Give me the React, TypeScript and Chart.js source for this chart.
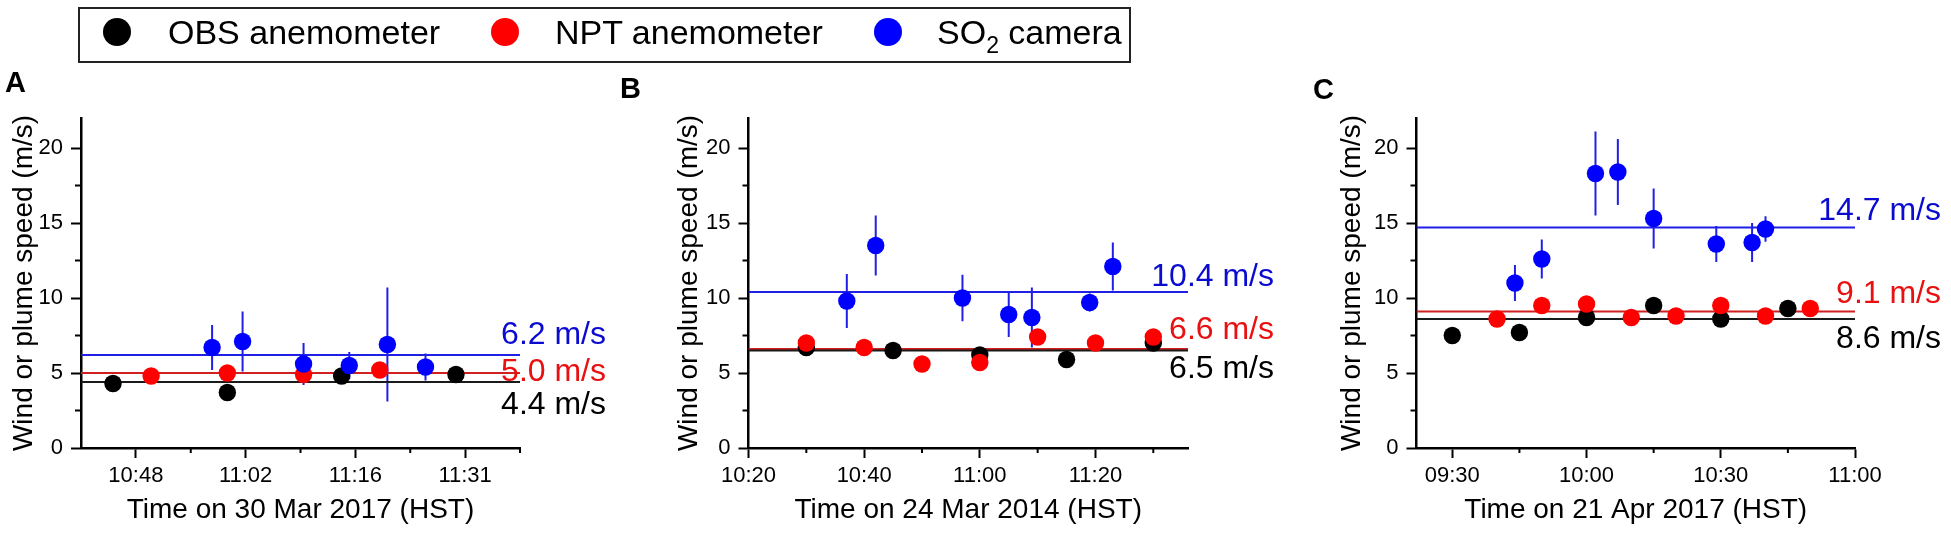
import { useEffect, useRef } from "react";
import { Chart, registerables } from "chart.js";
Chart.register(...registerables);

const FONT = "'Liberation Sans', Arial, sans-serif";

// shared y axis
const yTicks = [0, 5, 10, 15, 20];
const yMinor = [2.5, 7.5, 12.5, 17.5];
const yMax = 22;

const seriesNames = ["OBS anemometer", "NPT anemometer", "SO2 camera"];

// A - 30 Mar 2017
const aObsTime = ["10:45", "11:00", "11:15", "11:30"];
const aObsSpeed = [4.3, 3.7, 4.8, 4.9];
const aNptTime = ["10:50", "11:00", "11:10", "11:20"];
const aNptSpeed = [4.8, 5.0, 4.9, 5.2];
const aCamTime = ["10:58", "11:02", "11:10", "11:16", "11:21", "11:26"];
const aCamSpeed = [6.7, 7.1, 5.6, 5.5, 6.9, 5.4];
const aCamErr = [1.5, 2.0, 1.4, 0.9, 3.8, 0.9];
const aMeans = [4.4, 5.0, 6.2];
const aXRange = [640.8, 698.4]; // minutes after midnight
const aXTicks = [648, 662.4, 676.8, 691.2];
const aXMinor = [655.2, 669.6, 684, 698.4];

// B - 24 Mar 2014
const bObsTime = ["10:30", "10:45", "11:00", "11:15", "11:30"];
const bObsSpeed = [6.7, 6.5, 6.2, 5.9, 7.0];
const bNptTime = ["10:30", "10:40", "10:50", "11:00", "11:10", "11:20", "11:30"];
const bNptSpeed = [7.0, 6.7, 5.6, 5.7, 7.4, 7.0, 7.4];
const bCamTime = ["10:37", "10:42", "10:57", "11:05", "11:09", "11:19", "11:23"];
const bCamSpeed = [9.8, 13.5, 10.0, 8.9, 8.7, 9.7, 12.1];
const bCamErr = [1.8, 2.0, 1.55, 1.5, 2.0, 0.6, 1.6];
const bMeans = [6.5, 6.6, 10.4];
const bXRange = [620, 696];
const bXTicks = [620, 640, 660, 680];
const bXMinor = [630, 650, 670, 690];

// C - 21 Apr 2017
const cObsTime = ["09:30", "09:45", "10:00", "10:15", "10:30", "10:45"];
const cObsSpeed = [7.5, 7.7, 8.7, 9.5, 8.6, 9.3];
const cNptTime = ["09:40", "09:50", "10:00", "10:10", "10:20", "10:30", "10:40", "10:50"];
const cNptSpeed = [8.6, 9.5, 9.6, 8.7, 8.8, 9.5, 8.8, 9.3];
const cCamTime = ["09:44", "09:50", "10:02", "10:07", "10:15", "10:29", "10:37", "10:40"];
const cCamSpeed = [11.0, 12.6, 18.3, 18.4, 15.3, 13.6, 13.7, 14.6];
const cCamErr = [1.2, 1.3, 2.8, 2.2, 2.0, 1.2, 1.3, 0.85];
const cMeans = [8.6, 9.1, 14.7];
const cXRange = [562, 660];
const cXTicks = [570, 600, 630, 660];
const cXMinor = [585, 615, 645];

const POINT_COLORS = ["#000000", "#ff0000", "#0000ff"];
const LINE_COLORS = ["#1a1a1a", "#d02020", "#1f1fe6"];
const TEXT_COLORS = ["#000000", "#e81010", "#0a0ad0"];

const toMin = (s: string) => {
  const [h, m] = s.split(":").map(Number);
  return h * 60 + m;
};
const hhmm = (v: number) => {
  const t = Math.floor(v + 1e-6);
  return `${String(Math.floor(t / 60)).padStart(2, "0")}:${String(t % 60).padStart(2, "0")}`;
};

const decor = {
  id: "decor",
  beforeDatasetsDraw(chart: any, _args: any, opts: any) {
    const { ctx } = chart;
    const xs = chart.scales.x;
    const ys = chart.scales.y;
    ctx.save();
    ctx.strokeStyle = LINE_COLORS[2];
    ctx.lineWidth = 2;
    opts.errT.forEach((t: number, i: number) => {
      const px = xs.getPixelForValue(t);
      ctx.beginPath();
      ctx.moveTo(px, ys.getPixelForValue(opts.errV[i] - opts.errE[i]));
      ctx.lineTo(px, ys.getPixelForValue(opts.errV[i] + opts.errE[i]));
      ctx.stroke();
    });
    ctx.restore();
  },
  afterDraw(chart: any, _args: any, opts: any) {
    const { ctx, chartArea } = chart;
    const xs = chart.scales.x;
    const ys = chart.scales.y;
    ctx.save();
    ctx.strokeStyle = "#000";
    ctx.lineWidth = 2;
    opts.minorX.forEach((v: number) => {
      const px = xs.getPixelForValue(v);
      ctx.beginPath();
      ctx.moveTo(px, chartArea.bottom);
      ctx.lineTo(px, chartArea.bottom + 5);
      ctx.stroke();
    });
    yMinor.forEach((v) => {
      const py = ys.getPixelForValue(v);
      ctx.beginPath();
      ctx.moveTo(chartArea.left - 6, py);
      ctx.lineTo(chartArea.left, py);
      ctx.stroke();
    });
    ctx.font = `32px ${FONT}`;
    ctx.textAlign = "right";
    ctx.textBaseline = "middle";
    opts.means.forEach((m: number, i: number) => {
      ctx.fillStyle = TEXT_COLORS[i];
      ctx.fillText(`${m.toFixed(1)} m/s`, chartArea.right + 86, ys.getPixelForValue(m) + opts.labelDy[i]);
    });
    ctx.restore();
  },
};

interface PanelCfg {
  left: number;
  width: number;
  axisLeft: number;
  padRight: number;
  titlePad: number;
  labelDy: number[];
  title: string;
  times: string[][];
  speeds: number[][];
  camErr: number[];
  means: number[];
  xRange: number[];
  xTicks: number[];
  xMinor: number[];
}

const panels: PanelCfg[] = [
  {
    left: 0, width: 640, axisLeft: 81, padRight: 120, titlePad: 10, labelDy: [23, -1, -20],
    title: "Time on 30 Mar 2017 (HST)",
    times: [aObsTime, aNptTime, aCamTime], speeds: [aObsSpeed, aNptSpeed, aCamSpeed],
    camErr: aCamErr, means: aMeans, xRange: aXRange, xTicks: aXTicks, xMinor: aXMinor,
  },
  {
    left: 640, width: 660, axisLeft: 108.5, padRight: 112, titlePad: 35, labelDy: [19, -19, -15],
    title: "Time on 24 Mar 2014 (HST)",
    times: [bObsTime, bNptTime, bCamTime], speeds: [bObsSpeed, bNptSpeed, bCamSpeed],
    camErr: bCamErr, means: bMeans, xRange: bXRange, xTicks: bXTicks, xMinor: bXMinor,
  },
  {
    left: 1300, width: 651, axisLeft: 116.5, padRight: 96, titlePad: 38, labelDy: [20, -17, -16],
    title: "Time on 21 Apr 2017 (HST)",
    times: [cObsTime, cNptTime, cCamTime], speeds: [cObsSpeed, cNptSpeed, cCamSpeed],
    camErr: cCamErr, means: cMeans, xRange: cXRange, xTicks: cXTicks, xMinor: cXMinor,
  },
];

const Panel = ({ cfg }: { cfg: PanelCfg }) => {
  const chartRef = useRef<HTMLCanvasElement | null>(null);

  useEffect(() => {
    if (!chartRef.current) return;
    const ctx = chartRef.current.getContext("2d");
    if (!ctx) return;

    const [x0, x1] = cfg.xRange;
    const pointSets = [0, 1, 2].map((k) => ({
      label: seriesNames[k],
      data: cfg.times[k].map((t, i) => ({ x: toMin(t), y: cfg.speeds[k][i] })),
      backgroundColor: POINT_COLORS[k],
      borderWidth: 0,
      pointRadius: 8.7,
      pointHoverRadius: 8.7,
      order: 3 - k,
    }));
    const meanSets = [0, 1, 2].map((k) => ({
      label: seriesNames[k] + " mean",
      data: [{ x: x0, y: cfg.means[k] }, { x: x1, y: cfg.means[k] }],
      showLine: true,
      borderColor: LINE_COLORS[k],
      borderWidth: 2,
      pointRadius: 0,
      order: 10,
    }));

    const tickFont = { family: FONT, size: 22, lineHeight: 1 };
    const titleFont = { family: FONT, size: 28, lineHeight: 1 };

    const chart = new Chart(ctx, {
      type: "scatter",
      data: { datasets: [...meanSets, ...pointSets] as any },
      plugins: [decor],
      options: {
        animation: false,
        responsive: false,
        events: [],
        layout: {
          padding: { left: 0, top: 118, right: cfg.padRight, bottom: 12 },
        },
        scales: {
          x: {
            type: "linear",
            position: "bottom",
            bounds: "data",
            min: x0,
            max: x1,
            afterBuildTicks: (s: any) => {
              s.ticks = cfg.xTicks.map((v) => ({ value: v }));
            },
            afterFit: (s: any) => {
              s.height = 76;
            },
            ticks: {
              autoSkip: false,
              maxRotation: 0,
              minRotation: 0,
              padding: 6.5,
              color: "#000",
              font: tickFont,
              callback: (v: any) => hhmm(Number(v)),
            },
            grid: {
              display: true,
              drawOnChartArea: false,
              drawTicks: true,
              tickLength: 10,
              tickWidth: 2,
              tickColor: "#000",
            },
            border: { display: true, color: "#000", width: 2.5 },
            title: {
              display: true,
              text: cfg.title,
              color: "#000",
              font: titleFont,
              padding: { top: 0, bottom: 0 },
            },
          },
          y: {
            type: "linear",
            position: "left",
            bounds: "data",
            min: 0,
            max: yMax,
            afterBuildTicks: (s: any) => {
              s.ticks = yTicks.map((v) => ({ value: v }));
            },
            afterFit: (s: any) => {
              s.width = cfg.axisLeft;
            },
            ticks: {
              padding: 8,
              color: "#000",
              font: tickFont,
              callback: (v: any) => String(v),
            },
            grid: {
              display: true,
              drawOnChartArea: false,
              drawTicks: true,
              tickLength: 10,
              tickWidth: 2,
              tickColor: "#000",
            },
            border: { display: true, color: "#000", width: 2.5 },
            title: {
              display: true,
              text: "Wind or plume speed (m/s)",
              color: "#000",
              font: titleFont,
              padding: { top: cfg.titlePad, bottom: 0 },
            },
          },
        },
        plugins: {
          legend: { display: false },
          tooltip: { enabled: false },
          decor: {
            errT: cfg.times[2].map(toMin),
            errV: cfg.speeds[2],
            errE: cfg.camErr,
            minorX: cfg.xMinor,
            means: cfg.means,
            labelDy: cfg.labelDy,
          },
        } as any,
      },
    });

    return () => chart.destroy();
  }, [cfg]);

  return (
    <canvas
      ref={chartRef}
      width={cfg.width}
      height={536}
      style={{ position: "absolute", left: cfg.left, top: 0, width: cfg.width, height: 536 }}
    />
  );
};

const letters = [
  { text: "A", left: 5, top: 68 },
  { text: "B", left: 620, top: 74 },
  { text: "C", left: 1313, top: 75 },
];
const legendDotX = [117, 505, 888];
const legendTextX = [168, 555, 937];

const renderName = (name: string) =>
  name.startsWith("SO2") ? (
    <>
      SO<span style={{ fontSize: 23, position: "relative", top: 9 }}>2</span>
      {name.slice(3)}
    </>
  ) : (
    name
  );

const App = () => {
  return (
    <div
      style={{
        position: "fixed",
        left: 0,
        top: 0,
        width: 1951,
        height: 536,
        background: "#fff",
        fontFamily: FONT,
        color: "#000",
        overflow: "hidden",
      }}
    >
      {panels.map((p, i) => (
        <Panel key={i} cfg={p} />
      ))}
      <div
        style={{
          position: "absolute",
          left: 78,
          top: 7,
          width: 1053,
          height: 56,
          boxSizing: "border-box",
          border: "2px solid #222",
        }}
      />
      {seriesNames.map((n, i) => (
        <div key={n}>
          <div
            style={{
              position: "absolute",
              left: legendDotX[i] - 14,
              top: 18,
              width: 28,
              height: 28,
              borderRadius: "50%",
              background: POINT_COLORS[i],
            }}
          />
          <div
            style={{
              position: "absolute",
              left: legendTextX[i],
              top: 15,
              fontSize: 34,
              lineHeight: "34px",
              whiteSpace: "nowrap",
            }}
          >
            {renderName(n)}
          </div>
        </div>
      ))}
      {letters.map((l) => (
        <div
          key={l.text}
          style={{
            position: "absolute",
            left: l.left,
            top: l.top,
            fontSize: 29,
            fontWeight: "bold",
            lineHeight: "29px",
          }}
        >
          {l.text}
        </div>
      ))}
    </div>
  );
};

export default App;
